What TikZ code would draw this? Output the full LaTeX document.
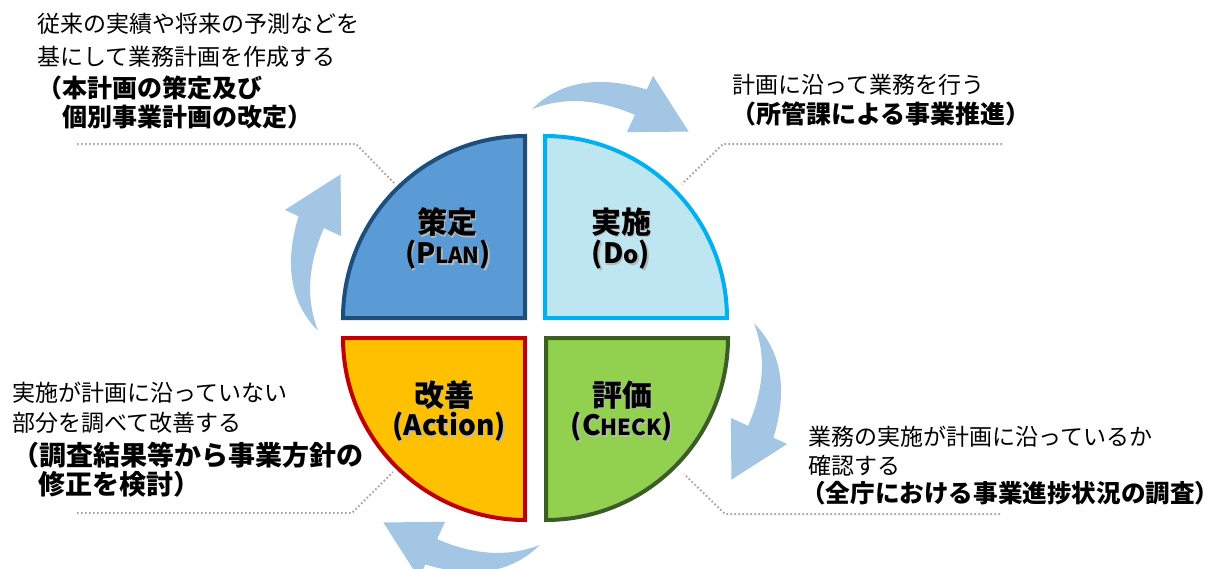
\documentclass[tikz,border=0pt]{standalone}
\usepackage{fontspec}
\setmainfont{Noto Sans CJK JP}
\definecolor{planfill}{HTML}{5B9BD5}
\definecolor{planline}{HTML}{1F4E79}
\definecolor{dofill}{HTML}{BDE6F1}
\definecolor{doline}{HTML}{00B0F0}
\definecolor{actfill}{HTML}{FFC000}
\definecolor{actline}{HTML}{C00000}
\definecolor{chkfill}{HTML}{92D050}
\definecolor{chkline}{HTML}{3B5E22}
\definecolor{arrowblue}{HTML}{A2C6E3}
\definecolor{leadgray}{HTML}{A6A6A6}
\definecolor{shadowgray}{HTML}{B8B8B8}
\tikzset{
  cyc/.style={fill=arrowblue},
  lead/.style={draw=leadgray, line width=2pt, dash pattern=on 1.6pt off 2.4pt},
  quad/.style={line width=4pt, line join=miter},
  desc/.style={anchor=west, inner sep=0, font=\fontsize{23}{28}\selectfont},
  descb/.style={anchor=west, inner sep=0, font=\bfseries\fontsize{25}{30}\selectfont},
  qlab/.style={inner sep=0, font=\bfseries\fontsize{30}{36}\selectfont},
  qlat/.style={inner sep=0, font=\bfseries\fontsize{28}{32}\selectfont},
}
\newcommand\cycarrow[1]{%
  \fill[cyc] (#1:218) .. controls ({#1+6}:244) and ({#1+14}:260) .. ({#1+26}:262)
    -- ({#1+26}:277) -- ({#1+39}:248) -- ({#1+26}:215) -- ({#1+26}:234)
    .. controls ({#1+14}:238) and ({#1+6}:228) .. (#1:218) -- cycle;}
\newcommand\qtext[4]{%
  \node[#1, text=shadowgray] (#2s) at ($(#3)+(1.6,1.6)$) {#4};
  \node[#1] (#2) at (#3) {#4};}
\usetikzlibrary{calc}
\begin{document}
\begin{tikzpicture}[x=1pt,y=-1pt]
\useasboundingbox[fill=white] (0,0) rectangle (1229,568);

% cycle arrows
\begin{scope}[shift={(536,327)}]
  \cycarrow{-91}
  \cycarrow{-1}
  \cycarrow{89}
  \cycarrow{179}
\end{scope}

% leader lines
\coordinate (tla) at (77,144);  \coordinate (tlb) at (356,144); \coordinate (tlc) at (394,183);
\coordinate (tra) at (1002,144); \coordinate (trb) at (723,144); \coordinate (trc) at (682,184);
\coordinate (bla) at (77,513);  \coordinate (blb) at (352,513); \coordinate (blc) at (393,472);
\coordinate (bra) at (1000,514); \coordinate (brb) at (725,514); \coordinate (brc) at (684,474);
\draw[lead] (tla) -- (tlb) -- (tlc);
\draw[lead] (tra) -- (trb) -- (trc);
\draw[lead] (bla) -- (blb) -- (blc);
\draw[lead] (bra) -- (brb) -- (brc);

% quadrants
\draw[quad, draw=planline, fill=planfill] (525,318) -- (343,318)
  -- plot[domain=180:270, samples=60] ({525+182*cos(\x)}, {318+182*sin(\x)}) -- cycle;
\draw[quad, draw=doline, fill=dofill] (545,318) -- (545,136)
  -- plot[domain=270:360, samples=60] ({545+182*cos(\x)}, {318+182*sin(\x)}) -- cycle;
\draw[quad, draw=chkline, fill=chkfill] (546,338) -- (728,338)
  -- plot[domain=0:90, samples=60] ({546+182*cos(\x)}, {338+182*sin(\x)}) -- cycle;
\draw[quad, draw=actline, fill=actfill] (525,338) -- (525,520)
  -- plot[domain=90:180, samples=60] ({525+182*cos(\x)}, {338+182*sin(\x)}) -- cycle;

% quadrant labels
\qtext{qlab}{planA}{447,222}{策定}
\qtext{qlat}{planB}{448,255}{(P{\fontsize{22}{24}\selectfont LAN})}
\qtext{qlab}{doA}{621,222}{実施}
\qtext{qlat}{doB}{621,255}{(D{\fontsize{24}{24}\selectfont o})}
\qtext{qlab}{actA}{444,395}{改善}
\qtext{qlat}{actB}{449,427}{(Action)}
\qtext{qlab}{chkA}{622,395}{評価}
\qtext{qlat}{chkB}{622,427}{(C{\fontsize{22}{24}\selectfont HECK})}

% descriptions
\node[desc]  (tl1) at (37,24)  {従来の実績や将来の予測などを};
\node[desc]  (tl2) at (37,57)  {基にして業務計画を作成する};
\node[descb] (tl3) at (37,88)  {（本計画の策定及び};
\node[descb] (tl4) at (62,117) {個別事業計画の改定）};

\node[desc]  (tr1) at (732,85)  {計画に沿って業務を行う};
\node[descb] (tr2) at (731,114) {（所管課による事業推進）};

\node[desc]  (bl1) at (12,393) {実施が計画に沿っていない};
\node[desc]  (bl2) at (12,423) {部分を調べて改善する};
\node[descb, font=\bfseries\fontsize{27}{32}\selectfont] (bl3) at (12,455) {（調査結果等から事業方針の};
\node[descb, font=\bfseries\fontsize{27}{32}\selectfont] (bl4) at (38,484) {修正を検討）};

\node[desc]  (br1) at (808,437) {業務の実施が計画に沿っているか};
\node[desc]  (br2) at (808,466) {確認する};
\node[descb, font=\bfseries\fontsize{24.6}{30}\selectfont] (br3) at (801,493) {（全庁における事業進捗状況の調査）};
\end{tikzpicture}
\end{document}
